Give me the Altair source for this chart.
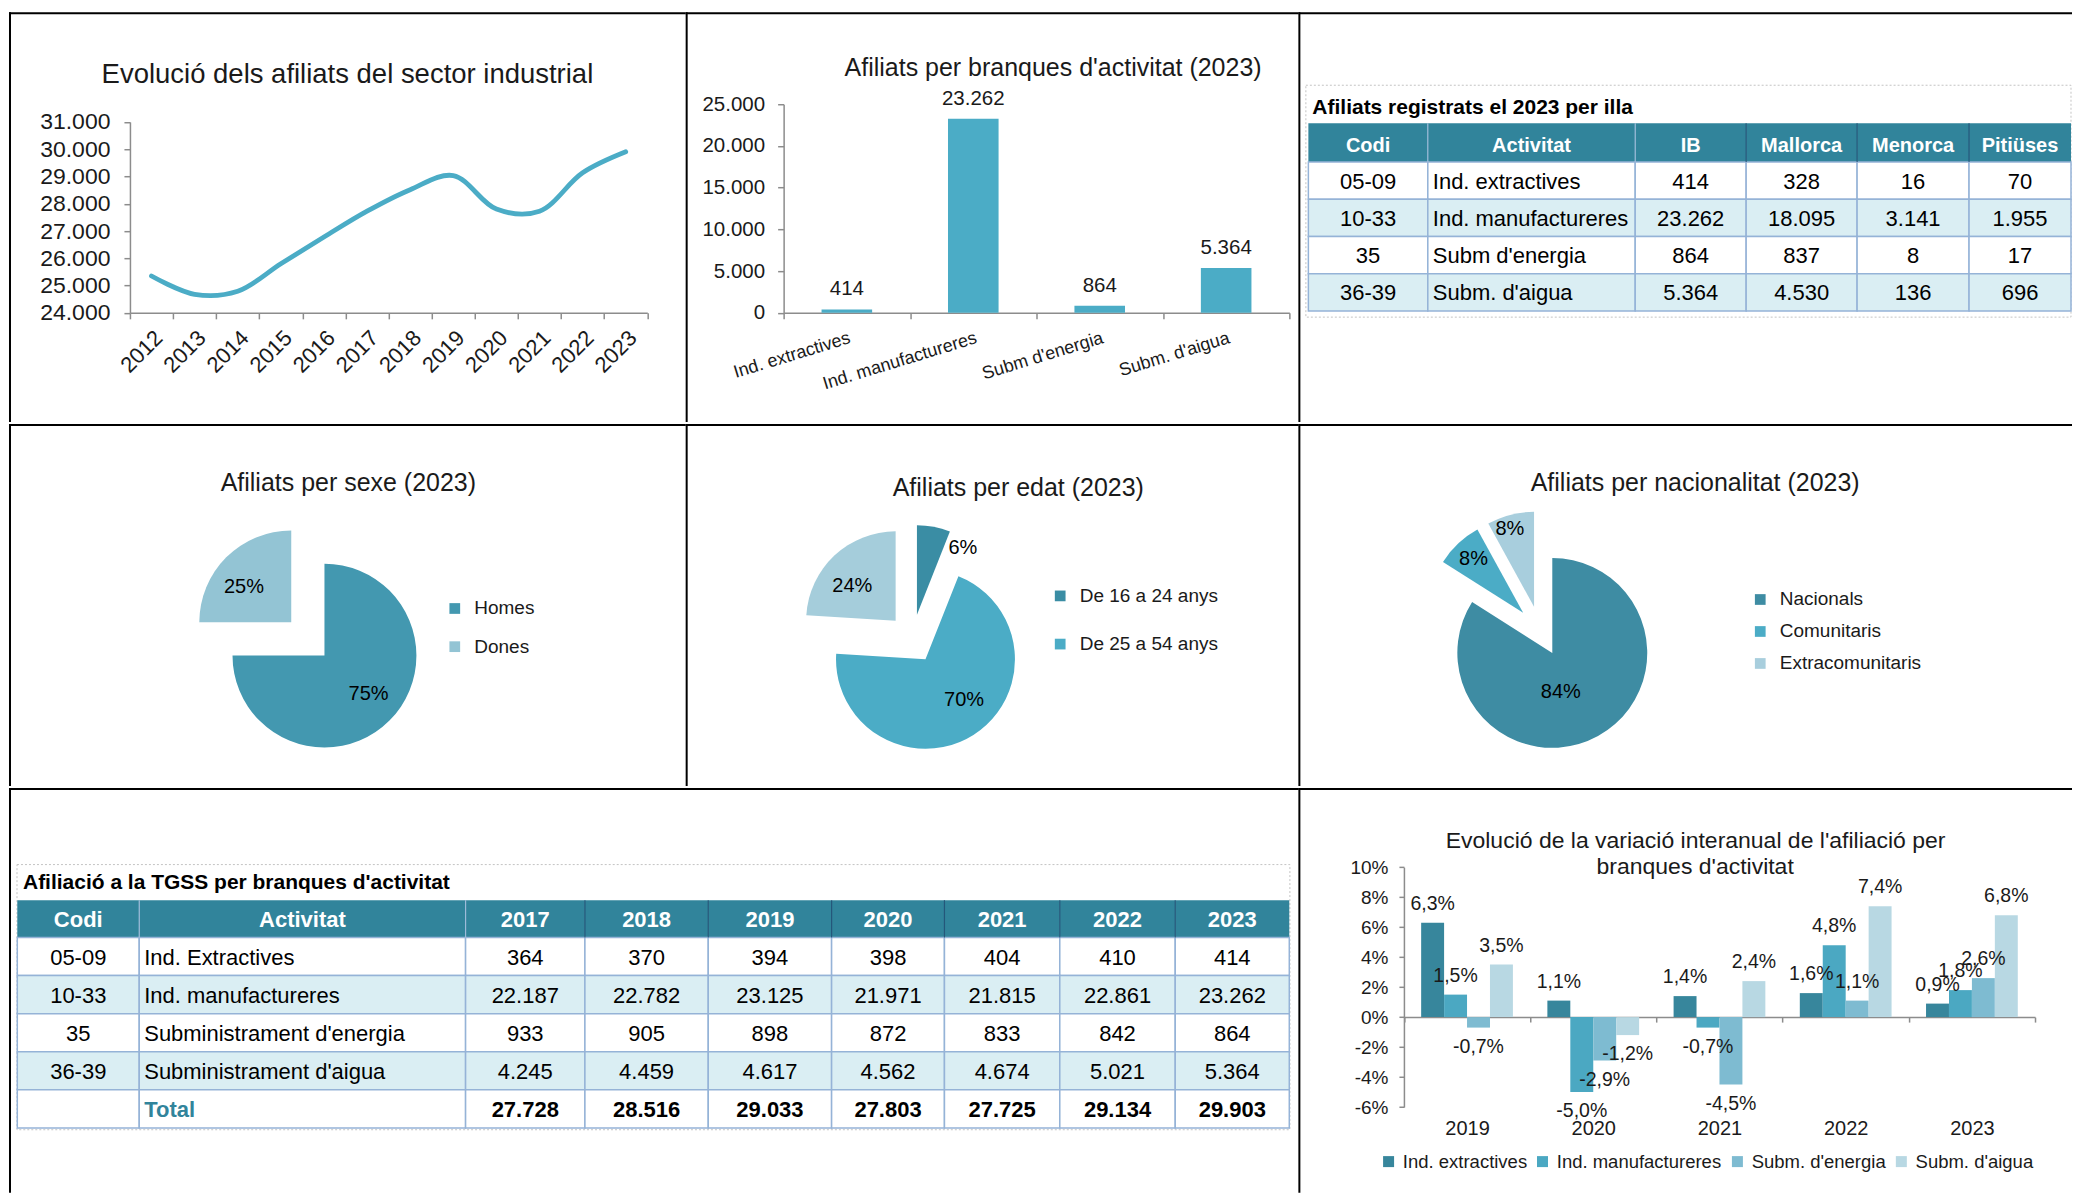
import math
import altair as alt
import pandas as pd

FONT = "Liberation Sans"
TXT = "#1a1a1a"
AXC = "#8c8c8c"

# ---------------- data ----------------
YEARS = ["2012", "2013", "2014", "2015", "2016", "2017", "2018", "2019", "2020", "2021", "2022", "2023"]
AFILIATS = [25350, 24680, 24790, 25800, 26780, 27728, 28516, 29033, 27803, 27725, 29134, 29903]

BRANQUES = ["Ind. extractives", "Ind. manufactureres", "Subm d'energia", "Subm. d'aigua"]
AFILIATS_2023 = [414, 23262, 864, 5364]

ILLA_HEADER = ["Codi", "Activitat", "IB", "Mallorca", "Menorca", "Pitiüses"]
CODIS = ["05-09", "10-33", "35", "36-39"]
ILLA_ACT = ["Ind. extractives", "Ind. manufactureres", "Subm d'energia", "Subm. d'aigua"]
ILLA_IB = [414, 23262, 864, 5364]
ILLA_MALLORCA = [328, 18095, 837, 4530]
ILLA_MENORCA = [16, 3141, 8, 136]
ILLA_PITIUSES = [70, 1955, 17, 696]

SEXE = ["Homes", "Dones"]
SEXE_PCT = [75, 25]
EDAT = ["De 16 a 24 anys", "De 25 a 54 anys", "Majors de 54 anys"]
EDAT_PCT = [6, 70, 24]
NACIO = ["Nacionals", "Comunitaris", "Extracomunitaris"]
NACIO_PCT = [84, 8, 8]

TGSS_YEARS = ["2017", "2018", "2019", "2020", "2021", "2022", "2023"]
TGSS_ACT = ["Ind. Extractives", "Ind. manufactureres", "Subministrament d'energia", "Subministrament d'aigua"]
TGSS_EXT = [364, 370, 394, 398, 404, 410, 414]
TGSS_MANU = [22187, 22782, 23125, 21971, 21815, 22861, 23262]
TGSS_ENER = [933, 905, 898, 872, 833, 842, 864]
TGSS_AIGUA = [4245, 4459, 4617, 4562, 4674, 5021, 5364]
TGSS_TOTAL = [27728, 28516, 29033, 27803, 27725, 29134, 29903]

VAR_YEARS = ["2019", "2020", "2021", "2022", "2023"]
VAR_SERIES = ["Ind. extractives", "Ind. manufactureres", "Subm. d'energia", "Subm. d'aigua"]
VAR_EXT = [6.3, 1.1, 1.4, 1.6, 0.9]
VAR_MANU = [1.5, -5.0, -0.7, 4.8, 1.8]
VAR_ENER = [-0.7, -2.9, -4.5, 1.1, 2.6]
VAR_AIGUA = [3.5, -1.2, 2.4, 7.4, 6.8]

T1 = "Evolució dels afiliats del sector industrial"
T2 = "Afiliats per branques d'activitat (2023)"
T3 = "Afiliats registrats el 2023 per illa"
T4 = "Afiliats per sexe (2023)"
T5 = "Afiliats per edat (2023)"
T6 = "Afiliats per nacionalitat (2023)"
T7 = "Afiliació a la TGSS per branques d'activitat"
T8 = ["Evolució de la variació interanual de l'afiliació per", "branques d'activitat"]

# ---------------- styles ----------------
AQUA = "#4BACC6"
HDR_FILL = "#31849B"
ALT_FILL = "#DAEEF3"
GRID = "#95B3D7"
SEP_DARK = "#24577A"
SEP_LIGHT = "#9DBBD9"
SEXE_COL = ["#4398B0", "#93C4D4"]
EDAT_COL = ["#3A8DA4", "#4BACC6", "#A5CDDB"]
NACIO_COL = ["#3E8CA3", "#4BACC6", "#A8CEDD"]
SER_COL = ["#37869C", "#4BA8C2", "#7EBBD1", "#B8D8E3"]

COLW = [677, 613, 774]
ROWH = [410, 362, 405]
W7 = COLW[0] + COLW[1]


def miles(v):
    return f"{v:,}".replace(",", ".")


def one():
    return pd.DataFrame({"k": [0]})


def borders(W, H):
    b = alt.Chart(one())
    return [
        b.mark_rule(color="black", strokeWidth=2).encode(x=alt.value(0), x2=alt.value(W), y=alt.value(1)),
        b.mark_rule(color="black", strokeWidth=2).encode(x=alt.value(1), y=alt.value(0), y2=alt.value(H)),
    ]


def label(txt, x, y, size, weight="normal", align="center", color=TXT):
    return alt.Chart(pd.DataFrame({"t": [txt]})).mark_text(
        font=FONT, fontSize=size, fontWeight=weight, align=align, baseline="middle", color=color
    ).encode(x=alt.value(x), y=alt.value(y), text="t:N")


def axis(**kw):
    base = dict(title=None, grid=False, domainColor=AXC, domainWidth=1.5, tickColor=AXC, tickWidth=1.5,
                labelFont=FONT, labelColor=TXT, labelFlush=False, labelOverlap=False)
    base.update(kw)
    return alt.Axis(**base)


def panel(layers, W, H):
    return alt.layer(*layers).properties(width=W, height=H).resolve_scale(x="independent", y="independent")


# ---------------- panel 1: line ----------------
W, H = COLW[0], ROWH[0]
df1 = pd.DataFrame({"yr": YEARS, "v": AFILIATS})
line1 = alt.Chart(df1).mark_line(color=AQUA, strokeWidth=4.8, interpolate="catmull-rom", strokeCap="round").encode(
    x=alt.X("yr:O", sort=None, bandPosition=0.5,
            scale=alt.Scale(type="band", domain=YEARS, range=[121, 638.6], paddingInner=0, paddingOuter=0),
            axis=axis(orient="bottom", offset=-109.3, tickBand="extent", labelAngle=-45, labelAlign="right",
                      labelBaseline="top", labelFontSize=22, labelPadding=8, tickSize=6)),
    y=alt.Y("v:Q", scale=alt.Scale(domain=[24000, 31000], range=[300.7, 109.7], nice=False, zero=False),
            axis=axis(orient="left", offset=-121, values=list(range(24000, 31001, 1000)), format=",d",
                      labelFontSize=23, labelPadding=14, tickSize=6)),
)
p1 = panel(borders(W, H) + [label(T1, 338.6, 62.3, 27.5), line1], W, H)

# ---------------- panel 2: bars ----------------
W, H = COLW[1], ROWH[0]
df2 = pd.DataFrame({"cat": BRANQUES, "v": AFILIATS_2023})
xb2 = alt.Scale(type="band", domain=BRANQUES, range=[98, 604], paddingInner=0.6, paddingOuter=0.3)
yb2 = alt.Scale(domain=[0, 25000], range=[300.7, 92], nice=False)
bars2 = alt.Chart(df2).mark_bar(color=AQUA).encode(
    x=alt.X("cat:N", sort=None, scale=xb2, axis=None),
    y=alt.Y("v:Q", scale=yb2, axis=axis(orient="left", offset=-98, values=list(range(0, 25001, 5000)),
                                        format=",d", labelFontSize=20.5, labelPadding=13, tickSize=6)),
)
lab2 = alt.Chart(df2).mark_text(font=FONT, fontSize=20.5, color=TXT, dy=-20, baseline="middle").encode(
    x=alt.X("cat:N", sort=None, scale=xb2, axis=None, bandPosition=0.5),
    y=alt.Y("v:Q", scale=yb2, axis=None),
    text=alt.Text("v:Q", format=",d"),
)
ax2 = alt.Chart(df2).mark_point(opacity=0).encode(
    x=alt.X("cat:N", sort=None,
            scale=alt.Scale(type="band", domain=BRANQUES, range=[98, 604], paddingInner=0, paddingOuter=0),
            axis=axis(orient="bottom", offset=-109.3, tickBand="extent", labelAngle=-17, labelAlign="right",
                      labelBaseline="top", labelFontSize=18, labelPadding=10, tickSize=6, labelLimit=400)),
)
p2 = panel(borders(W, H) + [label(T2, 367.6, 55.7, 25), bars2, lab2, ax2], W, H)


# ---------------- table helper ----------------
def table_layers(edges, yh0, yh1, row_h, header, rows, kinds, hdr_size, body_size, hdr_dy=1):
    hdr, cells, txt, seps = [], [], [], []
    for j, h in enumerate(header):
        x0, x1 = edges[j], edges[j + 1]
        hdr.append({"x0": x0, "x1": x1, "y0": yh0, "y1": yh1})
        txt.append({"x": (x0 + x1) / 2, "y": (yh0 + yh1) / 2 + hdr_dy, "t": h, "k": "h", "c": "white"})
        if j >= 1:
            seps.append({"x": x0, "y0": yh0, "y1": yh1, "c": SEP_DARK if j >= 3 else SEP_LIGHT})
    for i, row in enumerate(rows):
        y0 = yh1 + i * row_h
        y1 = y0 + row_h
        fill = ALT_FILL if i % 2 == 1 else "white"
        for j, val in enumerate(row):
            x0, x1 = edges[j], edges[j + 1]
            cells.append({"x0": x0, "x1": x1, "y0": y0, "y1": y1, "f": fill})
            k = kinds[i][j]
            tx = x0 + 5 if k in ("l", "lt") else (x0 + x1) / 2
            txt.append({"x": tx, "y": (y0 + y1) / 2 + 1, "t": val, "k": k,
                        "c": HDR_FILL if k == "lt" else "black"})
    X0 = alt.X("x0:Q", scale=None)
    Y0 = alt.Y("y0:Q", scale=None)
    out = [
        alt.Chart(pd.DataFrame(hdr)).mark_rect(fill=HDR_FILL).encode(x=X0, x2="x1:Q", y=Y0, y2="y1:Q"),
        alt.Chart(pd.DataFrame(cells)).mark_rect(stroke=GRID, strokeWidth=1.5).encode(
            x=X0, x2="x1:Q", y=Y0, y2="y1:Q", fill=alt.Fill("f:N", scale=None)),
        alt.Chart(pd.DataFrame(seps)).mark_rule(strokeWidth=1.2).encode(
            x=alt.X("x:Q", scale=None), y=Y0, y2="y1:Q", color=alt.Color("c:N", scale=None)),
    ]
    tdf = pd.DataFrame(txt)
    spec = {"h": ("center", "bold", hdr_size), "c": ("center", "normal", body_size),
            "l": ("left", "normal", body_size), "cb": ("center", "bold", body_size),
            "lt": ("left", "bold", body_size)}
    for k, (al, wt, sz) in spec.items():
        if (tdf["k"] == k).any():
            out.append(alt.Chart(tdf).transform_filter(alt.datum.k == k).mark_text(
                font=FONT, fontSize=sz, fontWeight=wt, align=al, baseline="middle").encode(
                x=alt.X("x:Q", scale=None), y=alt.Y("y:Q", scale=None), text="t:N",
                color=alt.Color("c:N", scale=None)))
    return out


def frame(x0, x1, y0, y1):
    return alt.Chart(one()).mark_rect(filled=False, stroke="#c4c4c4", strokeDash=[2, 2], strokeWidth=1).encode(
        x=alt.value(x0), x2=alt.value(x1), y=alt.value(y0), y2=alt.value(y1))


# ---------------- panel 3: table per illa ----------------
W, H = COLW[2], ROWH[0]
rows3 = []
for i in range(len(CODIS)):
    rows3.append([CODIS[i], ILLA_ACT[i], miles(ILLA_IB[i]), miles(ILLA_MALLORCA[i]),
                  miles(ILLA_MENORCA[i]), miles(ILLA_PITIUSES[i])])
kinds3 = [["c", "l", "c", "c", "c", "c"] for _ in rows3]
edges3 = [10, 129.5, 337, 448, 559, 671, 773]
p3 = panel(borders(W, H) + [frame(7.5, 773, 73, 305), label(T3, 14, 96, 21, "bold", "left", "black")]
           + table_layers(edges3, 111, 149.7, 37.3, ILLA_HEADER, rows3, kinds3, 20, 22, hdr_dy=3), W, H)


# ---------------- pies ----------------
def pie_panel(W, H, title, title_xy, cats, pcts, colors, center, r, explode, lab_fr, lab_adj,
              legend_vals, legend_xy, rowpad):
    layers = borders(W, H) + [label(title, title_xy[0], title_xy[1], 25)]
    df = pd.DataFrame({"cat": cats, "p": pcts, "ord": list(range(len(cats)))})
    tot = float(sum(pcts))
    cx, cy = center
    leg = alt.Legend(orient="none", legendX=legend_xy[0], legendY=legend_xy[1], direction="vertical",
                     title=None, symbolType="square", symbolSize=115, symbolStrokeWidth=0,
                     labelFont=FONT, labelFontSize=19, labelColor=TXT, rowPadding=rowpad,
                     labelOffset=10, padding=0, labelLimit=400, values=legend_vals)
    cum = 0.0
    texts = []
    for i, p in enumerate(pcts):
        mid = 2 * math.pi * (cum + p / 2) / tot
        cum += p
        ox = cx + explode * math.sin(mid)
        oy = cy - explode * math.cos(mid)
        arc = (alt.Chart(df)
               .transform_window(t1="sum(p)", sort=[alt.SortField("ord")], frame=[None, 0])
               .transform_calculate(t0="datum.t1 - datum.p")
               .transform_filter(alt.datum.ord == i)
               .mark_arc(radius=r)
               .encode(theta=alt.Theta("t0:Q", stack=None,
                                       scale=alt.Scale(domain=[0, tot], range=[0, 2 * math.pi])),
                       theta2=alt.Theta2("t1:Q"),
                       color=alt.Color("cat:N", scale=alt.Scale(domain=cats, range=colors), legend=leg),
                       x=alt.value(ox), y=alt.value(oy)))
        layers.append(arc)
        a = mid + math.radians(lab_adj[i])
        texts.append(label(f"{p}%", ox + lab_fr[i] * r * math.sin(a), oy - lab_fr[i] * r * math.cos(a), 20,
                           color="black"))
    return alt.layer(*(layers + texts)).properties(width=W, height=H)


p4 = pie_panel(COLW[0], ROWH[1], T4, (339.5, 58.7), SEXE, SEXE_PCT, SEXE_COL, (299, 215), 92, 23.5,
               [0.634, 0.643], [-4.2, -8.2], SEXE, (436.5, 175), 18.2)
p5 = pie_panel(COLW[1], ROWH[1], T5, (332.8, 63.7), EDAT, EDAT_PCT, EDAT_COL, (226.8, 214.7), 89.5, 24.5,
               [0.904, 0.628, 0.62], [23.8, -11, -8], EDAT[:2], (365.2, 162.4), 28.2)
p6 = pie_panel(COLW[2], ROWH[1], T6, (397, 58.7), NACIO, NACIO_PCT, NACIO_COL, (242, 207), 95, 25,
               [0.42, 0.77, 0.855], [16.5, 0.4, -2.9], NACIO, (452.6, 166), 12)

# ---------------- panel 7: TGSS table ----------------
W, H = W7, ROWH[2]
rows7 = []
for i, vals in enumerate([TGSS_EXT, TGSS_MANU, TGSS_ENER, TGSS_AIGUA]):
    rows7.append([CODIS[i], TGSS_ACT[i]] + [miles(v) for v in vals])
rows7.append(["", "Total"] + [miles(v) for v in TGSS_TOTAL])
kinds7 = [["c", "l"] + ["c"] * 7 for _ in range(4)] + [["c", "lt"] + ["cb"] * 7]
edges7 = [8.3, 130.3, 456.8, 576.2, 699.6, 823, 935.9, 1051.3, 1166.8, 1280.9]
p7 = panel(borders(W, H) + [frame(8, 1281.5, 76.7, 342), label(T7, 14, 95.5, 21, "bold", "left", "black")]
           + table_layers(edges7, 112.3, 149.7, 38.1, ["Codi", "Activitat"] + TGSS_YEARS, rows7, kinds7, 22, 22),
           W, H)

# ---------------- panel 8: grouped bars ----------------
W, H = COLW[2], ROWH[2]
rec8 = []
for s, vals in zip(VAR_SERIES, [VAR_EXT, VAR_MANU, VAR_ENER, VAR_AIGUA]):
    for yv, v in zip(VAR_YEARS, vals):
        rec8.append({"yr": yv, "serie": s, "v": v})
df8 = pd.DataFrame(rec8)
xs8 = alt.Scale(type="band", domain=VAR_YEARS, range=[105.6, 737], paddingInner=0.273, paddingOuter=0.1365)
xo8 = alt.XOffset("serie:N", sort=VAR_SERIES, scale=alt.Scale(domain=VAR_SERIES, paddingInner=0, paddingOuter=0))
ys8 = alt.Scale(domain=[-6, 10], range=[319.3, 79.3], nice=False)
bars8 = alt.Chart(df8).mark_bar().encode(
    x=alt.X("yr:N", sort=VAR_YEARS, scale=xs8, axis=None),
    xOffset=xo8,
    y=alt.Y("v:Q", scale=ys8, axis=axis(orient="left", offset=-105.6, values=list(range(-6, 11, 2)),
                                        labelExpr="datum.value + '%'", labelFontSize=19, labelPadding=11,
                                        tickSize=5)),
    color=alt.Color("serie:N", sort=VAR_SERIES, scale=alt.Scale(domain=VAR_SERIES, range=SER_COL),
                    legend=alt.Legend(orient="none", legendX=81, legendY=364.5, direction="horizontal",
                                      title=None, symbolType="square", symbolSize=121, symbolStrokeWidth=0,
                                      labelFont=FONT, labelFontSize=18.5, labelColor=TXT, labelOffset=5,
                                      columnPadding=6, padding=0, labelLimit=400)),
)


def lab8(cond, dy):
    return alt.Chart(df8).transform_filter(cond).transform_calculate(f="datum.v / 100").mark_text(
        font=FONT, fontSize=19.5, color=TXT, dy=dy, baseline="middle").encode(
        x=alt.X("yr:N", sort=VAR_YEARS, scale=xs8, axis=None),
        xOffset=xo8,
        y=alt.Y("v:Q", scale=ys8, axis=None),
        text=alt.Text("f:Q", format=".1%"))


ax8 = alt.Chart(pd.DataFrame({"yr": VAR_YEARS})).mark_point(opacity=0).encode(
    x=alt.X("yr:N", sort=VAR_YEARS,
            scale=alt.Scale(type="band", domain=VAR_YEARS, range=[105.6, 737], paddingInner=0, paddingOuter=0),
            axis=axis(orient="bottom", offset=-175.7, tickBand="extent", tickSize=5, labelPadding=96,
                      labelFontSize=20, labelAngle=0)),
)
p8 = panel(borders(W, H) + [label(T8[0], 397.4, 53, 23), label(T8[1], 397, 78.7, 23),
                            bars8, lab8("datum.v >= 0", -19), lab8("datum.v < 0", 19), ax8], W, H)

# ---------------- assemble ----------------
row1 = alt.hconcat(p1, p2, p3, spacing=0, bounds="flush").resolve_scale(color="independent")
row2 = alt.hconcat(p4, p5, p6, spacing=0, bounds="flush").resolve_scale(color="independent")
row3 = alt.hconcat(p7, p8, spacing=0, bounds="flush").resolve_scale(color="independent")
chart = alt.vconcat(row1, row2, row3, spacing=0).resolve_scale(color="independent")
chart = chart.properties(padding={"left": 0, "top": 3, "right": 0, "bottom": 0}, background="white")
chart = chart.configure(
    font=FONT,
    locale=alt.Locale(number=alt.NumberLocale(decimal=",", thousands=".", grouping=[3],
                                              currency=["", " €"], minus="-")),
).configure_view(stroke=None)

chart.save("out.html", embed_options={"renderer": "svg", "actions": False})
